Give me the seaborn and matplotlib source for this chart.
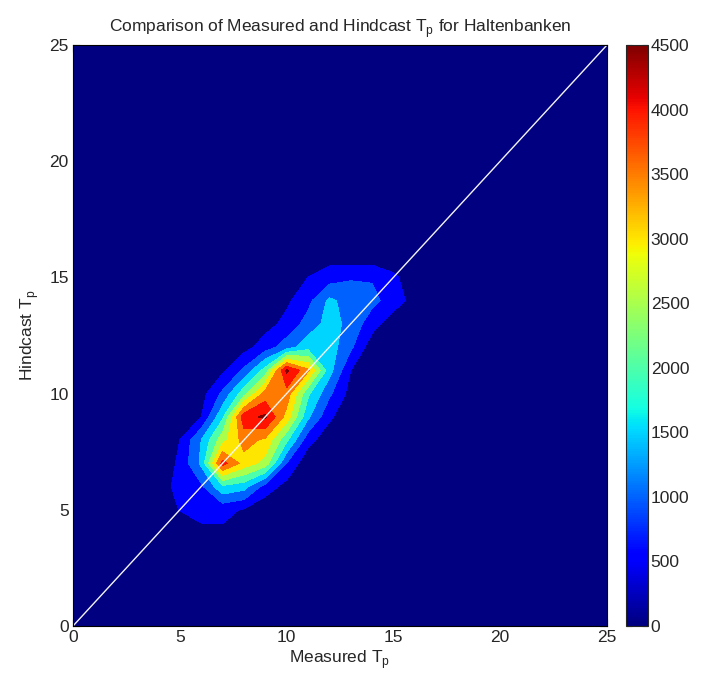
import numpy as np
import matplotlib
matplotlib.use("Agg")
import matplotlib.pyplot as plt
from matplotlib.colors import Normalize
from matplotlib.cm import ScalarMappable
import seaborn as sns

# ---- data -------------------------------------------------------------
tp_axis = list(range(0, 26))            # Tp grid (s), both axes
x_first = 4                             # first column of the rows below
# counts per Hindcast Tp row (y), columns Measured Tp = 4..16
row_y04 = [0, 0, 350, 400, 100, 0, 0, 0, 0, 0, 0, 0, 0]
row_y05 = [150, 520, 700, 650, 450, 100, 0, 0, 0, 0, 0, 0, 0]
row_y06 = [200, 700, 900, 1900, 1700, 800, 300, 0, 0, 0, 0, 0, 0]
row_y07 = [100, 600, 1600, 4200, 3300, 2800, 1000, 100, 0, 0, 0, 0, 0]
row_y08 = [0, 500, 1500, 2800, 3700, 3400, 2100, 700, 150, 0, 0, 0, 0]
row_y09 = [0, 200, 500, 1900, 4300, 4600, 3300, 1600, 600, 100, 0, 0, 0]
row_y10 = [0, 0, 300, 1100, 2300, 3700, 3800, 2100, 1100, 300, 0, 0, 0]
row_y11 = [0, 0, 100, 400, 1100, 2200, 4600, 3600, 1700, 500, 100, 0, 0]
row_y12 = [0, 0, 0, 100, 300, 750, 1250, 1800, 1750, 1100, 200, 0, 0]
row_y13 = [0, 0, 0, 0, 100, 300, 650, 1200, 1700, 1350, 700, 200, 0]
row_y14 = [0, 0, 0, 0, 0, 100, 400, 850, 1600, 1300, 1150, 750, 300]
row_y15 = [0, 0, 0, 0, 0, 0, 150, 500, 750, 950, 950, 600, 200]
row_y16 = [0, 0, 0, 0, 0, 0, 0, 150, 250, 100, 100, 100, 0]
rows = {4: row_y04, 5: row_y05, 6: row_y06, 7: row_y07, 8: row_y08,
        9: row_y09, 10: row_y10, 11: row_y11, 12: row_y12, 13: row_y13,
        14: row_y14, 15: row_y15, 16: row_y16}

cbar_ticks = [0, 500, 1000, 1500, 2000, 2500, 3000, 3500, 4000, 4500]
axis_ticks = [0, 5, 10, 15, 20, 25]
diag = [0, 25]

title = "Comparison of Measured and Hindcast T$_\\mathregular{p}$ for Haltenbanken"
xlabel = "Measured T$_\\mathregular{p}$"
ylabel = "Hindcast T$_\\mathregular{p}$"

# ---- build grid -------------------------------------------------------
n = len(tp_axis)
counts = np.zeros((n, n))
for yv, r in rows.items():
    counts[yv, x_first:x_first + len(r)] = r

# ---- style ------------------------------------------------------------
sns.set_style("ticks")
plt.rcParams['font.family'] = ['Liberation Sans', 'DejaVu Sans']
plt.rcParams['mathtext.fontset'] = 'custom'
plt.rcParams['mathtext.rm'] = 'Liberation Sans'

fig = plt.figure(figsize=(7.02, 6.77), dpi=100)
ax = fig.add_axes([73 / 702, 51 / 677, 534 / 702, 581 / 677])
cax = fig.add_axes([626 / 702, 51 / 677, 22 / 702, 581 / 677])

jet = plt.get_cmap('jet')
levels = cbar_ticks + [9000]
fill_colors = [jet(l / 4500) for l in levels[:-1]]
ax.contourf(tp_axis, tp_axis, counts, levels=levels, colors=fill_colors)

sns.lineplot(x=diag, y=diag, ax=ax, color='#f4f4f4', linewidth=1.0)

ax.set_xlim(0, 25)
ax.set_ylim(0, 25)
ax.set_xticks(axis_ticks)
ax.set_yticks(axis_ticks)
ax.tick_params(direction='in', top=True, right=True, labelsize=12.5,
               length=5, width=0.8, color='black', pad=3)
for s in ax.spines.values():
    s.set_visible(True)
    s.set_linewidth(0.8)
    s.set_color('black')
ax.set_xlabel(xlabel, fontsize=12.5, labelpad=2)
ax.set_ylabel(ylabel, fontsize=12.5, labelpad=6)
ax.set_title(title, fontsize=12.5, pad=9)

sm = ScalarMappable(norm=Normalize(0, 4500), cmap=jet)
cb = fig.colorbar(sm, cax=cax, ticks=cbar_ticks)
cb.outline.set_linewidth(0.8)
cax.tick_params(direction='in', labelsize=12.5, length=4, width=0.8, pad=2,
                left=True, right=True)

fig.savefig("out.png", dpi=100, facecolor='white')
